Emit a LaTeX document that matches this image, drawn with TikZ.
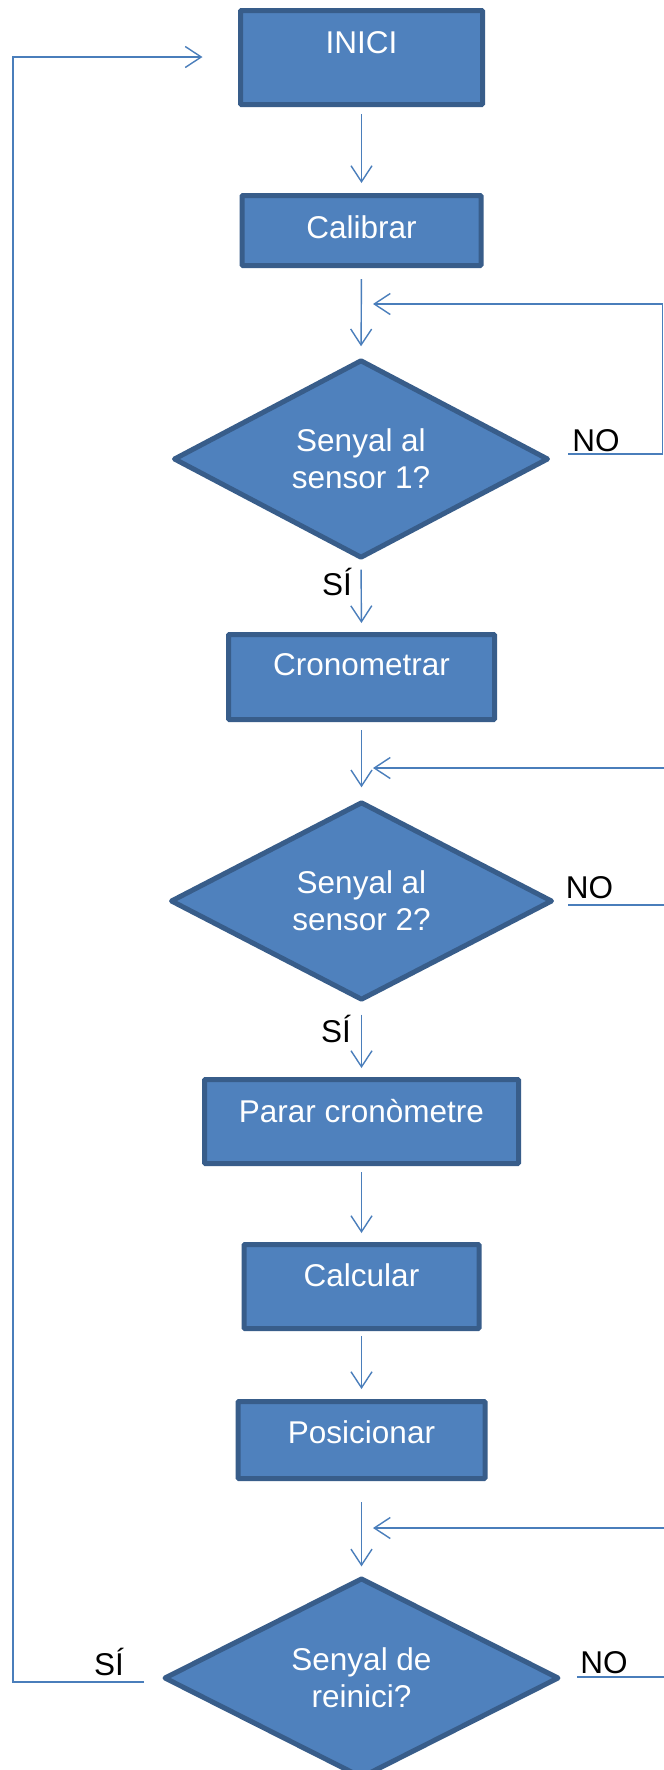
\documentclass[tikz,border=0pt]{standalone}
\usepackage{fontspec}
\setmainfont{Liberation Sans}
\usetikzlibrary{shapes.geometric,arrows.meta}
\definecolor{boxfill}{HTML}{4F81BD}
\definecolor{boxline}{HTML}{385D8A}
\definecolor{conncol}{HTML}{4A7EBB}
\begin{document}
\begin{tikzpicture}[x=1pt,y=-1pt,
  txt/.style={font=\fontsize{31.5}{37}\selectfont},
  procbox/.style={draw=boxline, fill=boxfill, line width=5pt, rounded corners=1pt, inner sep=0pt, text=white, txt, text height=23pt},
  decision/.style={diamond, draw=boxline, fill=boxfill, line width=5pt, line join=round, inner sep=0pt, text=white, txt, align=center},
  conn/.style={draw=conncol, line width=1.4pt, -{Straight Barb[length=16pt,width=21pt]}},
  lbl/.style={txt, text=black, anchor=base, inner sep=0pt},
]
\useasboundingbox (0,0) rectangle (664,1770);
\clip (0,0) rectangle (664,1770);
\fill[white] (0,0) rectangle (664,1770);

\node[procbox, minimum width=242pt, minimum height=94pt, text depth=32pt] (inici) at (361.5,57.5) {INICI};
\node[procbox, minimum width=239pt, minimum height=70pt, text depth=8pt] (calibrar) at (361.5,230.5) {Calibrar};
\node[decision, minimum width=375pt, minimum height=183pt] (d1) at (361,459) {Senyal al\\sensor 1?};
\node[procbox, minimum width=266pt, minimum height=85pt, text depth=27pt] (crono) at (361.5,677) {Cronometrar};
\node[decision, minimum width=382pt, minimum height=183pt] (d2) at (361.5,901) {Senyal al\\sensor 2?};
\node[procbox, minimum width=314pt, minimum height=84pt, text depth=22pt] (parar) at (361.5,1121.5) {Parar cronòmetre};
\node[procbox, minimum width=235pt, minimum height=84pt, text depth=24pt] (calc) at (361.5,1286.5) {Calcular};
\node[procbox, minimum width=247pt, minimum height=77pt, text depth=17pt] (pos) at (361.5,1440) {Posicionar};
\node[decision, minimum width=395pt, minimum height=193pt] (d3) at (361.5,1678) {Senyal de\\reinici?};

\draw[conn, shorten <=7pt, shorten >=10pt] (inici.south) -- (calibrar.north);
\draw[conn, shorten <=11pt, shorten >=11pt] (calibrar.south) -- (d1.north);
\draw[conn, shorten <=9pt, shorten >=9pt] (d1.south) -- (crono.north);
\draw[conn, shorten <=8pt, shorten >=12pt] (crono.south) -- (d2.north);
\draw[conn, shorten <=12pt, shorten >=9pt] (d2.south) -- (parar.north);
\draw[conn, shorten <=6pt, shorten >=9pt] (parar.south) -- (calc.north);
\draw[conn, shorten <=5pt, shorten >=10pt] (calc.south) -- (pos.north);
\draw[conn, shorten <=21pt, shorten >=9pt] (pos.south) -- (d3.north);

\coordinate (n1) at (568,454);
\coordinate (r1) at (662.5,304);
\coordinate (m1) at (373,304);
\draw[conn] (n1) -| (r1) -- (m1);

\coordinate (n2) at (568,905);
\coordinate (r2) at (680,768);
\coordinate (m2) at (373,768);
\draw[conn] (n2) -| (r2) -- (m2);

\coordinate (n3) at (577,1677);
\coordinate (r3) at (680,1528);
\coordinate (m3) at (373,1528);
\draw[conn] (n3) -| (r3) -- (m3);

\coordinate (s3) at (144,1682);
\coordinate (l3) at (13,57);
\coordinate (m0) at (202.5,57);
\draw[conn] (s3) -| (l3) -- (m0);

\node[lbl] (no1) at (596,451) {NO};
\node[lbl] (si1) at (337,595) {SÍ};
\node[lbl] (no2) at (589.5,898) {NO};
\node[lbl] (si2) at (336,1042) {SÍ};
\node[lbl] (no3) at (604,1673) {NO};
\node[lbl] (si3) at (109,1675) {SÍ};
\end{tikzpicture}
\end{document}
